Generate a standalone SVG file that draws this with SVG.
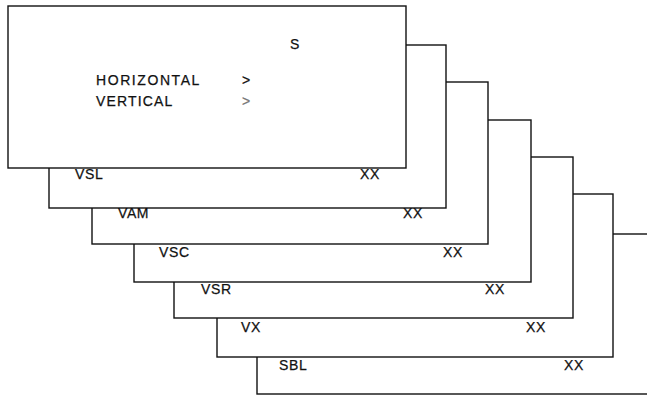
<svg xmlns="http://www.w3.org/2000/svg" width="647" height="396" viewBox="0 0 647 396">
<style>
.card{fill:#fff;stroke:#111;stroke-width:1.4}
.t{font-family:"Liberation Sans",Arial,sans-serif;font-size:14px;fill:#111;stroke:#111;stroke-width:0.25;letter-spacing:0.6px}
</style>
<rect width="647" height="396" fill="#fff"/>
<g id="card-SBL">
<rect class="card" x="257" y="234" width="400" height="160"/>
<text class="t" x="279" y="370">SBL</text>
<text class="t" x="564" y="370">XX</text>
</g>
<g id="card-VX">
<rect class="card" x="217" y="194" width="396" height="163"/>
<text class="t" x="241" y="332">VX</text>
<text class="t" x="526" y="332">XX</text>
</g>
<g id="card-VSR">
<rect class="card" x="174" y="157" width="399" height="161"/>
<text class="t" x="201" y="294">VSR</text>
<text class="t" x="485" y="294">XX</text>
</g>
<g id="card-VSC">
<rect class="card" x="134" y="120" width="397" height="162"/>
<text class="t" x="159" y="257">VSC</text>
<text class="t" x="443" y="257">XX</text>
</g>
<g id="card-VAM">
<rect class="card" x="92" y="82" width="396" height="162"/>
<text class="t" x="118" y="218">VAM</text>
<text class="t" x="403" y="218">XX</text>
</g>
<g id="card-VSL">
<rect class="card" x="49" y="45" width="397" height="163"/>
<text class="t" x="75" y="179">VSL</text>
<text class="t" x="360" y="179">XX</text>
</g>
<g id="card-S">
<rect class="card" x="8" y="6" width="398" height="162"/>
<text class="t" x="290" y="49">S</text>
<text class="t" x="96" y="85" textLength="104" lengthAdjust="spacing">HORIZONTAL</text>
<text class="t" x="242" y="85">&gt;</text>
<text class="t" x="96" y="106" textLength="77" lengthAdjust="spacing">VERTICAL</text>
<text class="t" x="242" y="106" style="fill:#777;stroke:#777">&gt;</text>
</g>
<g id="connectors"/>
</svg>
